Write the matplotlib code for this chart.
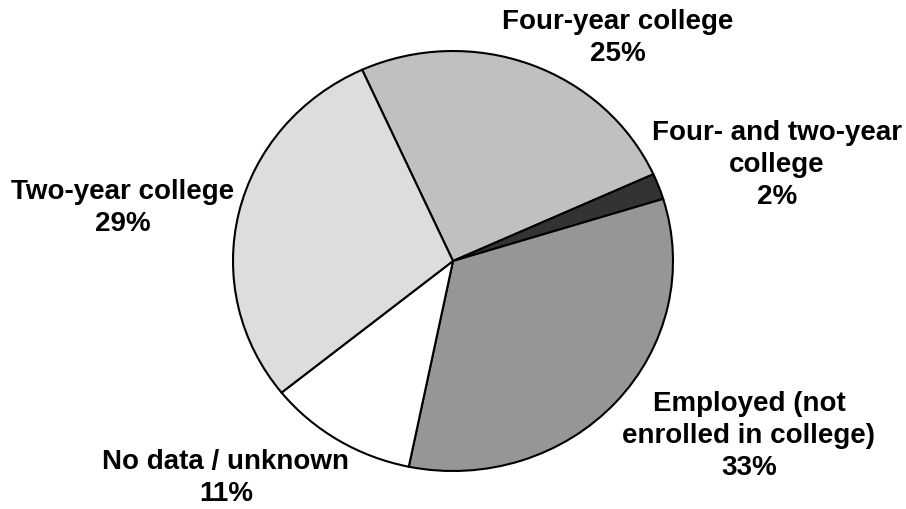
import matplotlib.pyplot as plt

plt.rcParams['font.family'] = ['Liberation Sans', 'DejaVu Sans']

categories = ['Four-year college', 'Four- and two-year\ncollege', 'Employed (not\nenrolled in college)',
              'No data / unknown', 'Two-year college']
shares = [25, 2, 33, 11, 29]
colors = ['#c0c0c0', '#333333', '#969696', '#ffffff', '#dddddd']

# label centres in pixels (x, y from top)
label_pos = [(618, 38), (777, 165), (749, 436), (226, 478), (123, 208)]

W, H = 906, 510
fig = plt.figure(figsize=(W / 100, H / 100), dpi=100)

# pie box: x 233..673, y 52..472 (slightly wider than tall)
left, right, top, bottom = 233, 673, 52, 472
ax = fig.add_axes([left / W, 1 - bottom / H, (right - left) / W, (bottom - top) / H])
ax.pie(shares, colors=colors, startangle=114.4, counterclock=False,
       wedgeprops=dict(edgecolor='black', linewidth=1.5))
ax.set_aspect('auto')
ax.set_xlim(-1.0, 1.0)
ax.set_ylim(-1.0, 1.0)
ax.axis('off')

for cat, val, (x, y) in zip(categories, shares, label_pos):
    fig.text(x / W, 1 - y / H, f'{cat}\n{val}%', ha='center', va='center',
             multialignment='center', fontsize=20, fontweight='bold', linespacing=1.3)

fig.savefig('out.png', dpi=100)
